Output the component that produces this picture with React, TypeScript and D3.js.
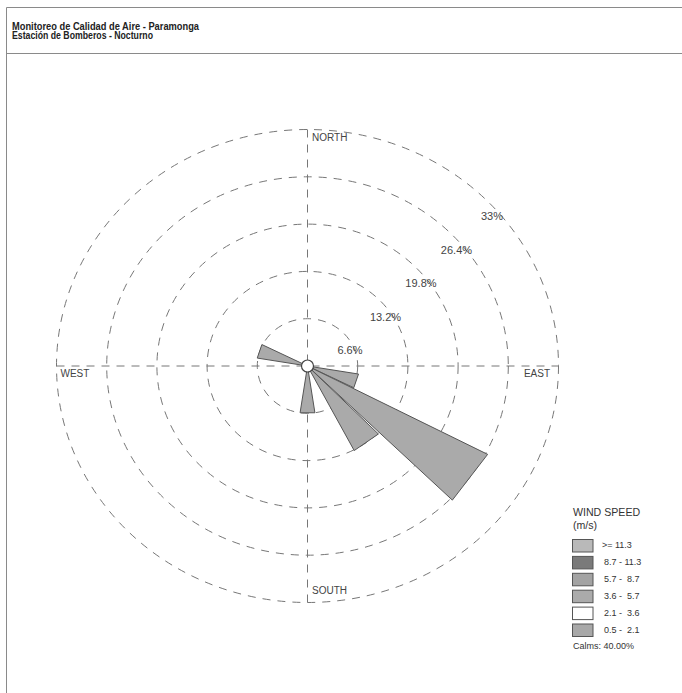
import React from "react";
import * as d3 from "d3";

const titleLines = ["Monitoreo de Calidad de Aire - Paramonga", "Estación de Bomberos - Nocturno"];
const directions = [288, 108, 126, 144, 180]; // bearing (deg) of sector centers
const frequencies = [6.7, 6.8, 26.7, 13.3, 6.6]; // percent
const ringValues = [6.6, 13.2, 19.8, 26.4, 33];
const ringLabels = ["6.6%", "13.2%", "19.8%", "26.4%", "33%"];
const compass = ["NORTH", "EAST", "SOUTH", "WEST"];
const legendLabels = [">= 11.3", "8.7 - 11.3", "5.7 -  8.7", "3.6 -  5.7", "2.1 -  3.6", "0.5 -  2.1"];
const legendColors = ["#b9b9b9", "#7a7a7a", "#a3a3a3", "#ababab", "#ffffff", "#a8a8a8"];
const calmsText = "Calms: 40.00%";

const W = 682;
const H = 693;
const cx = 307.5;
const cy = 366;
const FONT = "'Liberation Sans', Arial, Helvetica, sans-serif";

export default function App() {
  const rx = d3.scaleLinear().domain([0, 33]).range([0, 251]);
  const ry = d3.scaleLinear().domain([0, 33]).range([0, 236.5]);
  const halfWidth = 8.5;
  const pt = (bearing: number, v: number): [number, number] => {
    const a = (bearing * Math.PI) / 180;
    return [cx + rx(v) * Math.sin(a), cy - ry(v) * Math.cos(a)];
  };
  const line = d3.line();
  const maxV = 33;
  const dash = "8,7";
  const gridColor = "#777";

  return (
    <svg width={W} height={H} style={{ position: "absolute", left: 0, top: 0, background: "#fff" }} fontFamily={FONT}>
      {/* frame */}
      <line x1={6.5} y1={7.5} x2={W} y2={7.5} stroke="#8a8a8a" />
      <line x1={6.5} y1={53.5} x2={W} y2={53.5} stroke="#8a8a8a" />
      <line x1={6.5} y1={7.5} x2={6.5} y2={H} stroke="#8a8a8a" />
      {titleLines.map((t, i) => (
        <text key={t} x={12} y={29.5 + i * 9.5} fontSize={10} fontWeight="bold" fill="#222"
          textLength={i === 0 ? 187 : 141} lengthAdjust="spacingAndGlyphs">{t}</text>
      ))}

      {/* rings */}
      {ringValues.map((v) => (
        <ellipse key={v} cx={cx} cy={cy} rx={rx(v)} ry={ry(v)} fill="none" stroke={gridColor} strokeWidth={1} strokeDasharray={dash} />
      ))}
      <line x1={cx - rx(maxV)} y1={cy} x2={cx + rx(maxV)} y2={cy} stroke={gridColor} strokeDasharray={dash} />
      <line x1={cx} y1={cy - ry(maxV)} x2={cx} y2={cy + ry(maxV)} stroke={gridColor} strokeDasharray={dash} />

      {ringValues.map((v, i) => (
        <text key={"l" + v} x={cx + rx(v) * 0.707 + 7} y={cy - ry(v) * 0.707 + 18.5} fontSize={11} fill="#444"
          textAnchor="middle" dominantBaseline="middle">{ringLabels[i]}</text>
      ))}

      {/* compass */}
      <text x={cx + 4.5} y={cy - ry(maxV) + 11} fontSize={10} fill="#444">{compass[0]}</text>
      <text x={cx + rx(maxV) - 8.5} y={cy + 11} fontSize={10} fill="#444" textAnchor="end">{compass[1]}</text>
      <text x={cx + 4.5} y={cy + ry(maxV) - 8.5} fontSize={10} fill="#444">{compass[2]}</text>
      <text x={cx - rx(maxV) + 4} y={cy + 11} fontSize={10} fill="#444">{compass[3]}</text>

      {/* wedges */}
      {directions.map((b, i) => {
        const v = frequencies[i];
        const p = line([[cx, cy], pt(b - halfWidth, v), pt(b + halfWidth, v)]) + "Z";
        return <path key={b} d={p} fill="#aaaaaa" stroke="#555" strokeWidth={1} strokeLinejoin="miter" />;
      })}
      <circle cx={cx} cy={cy} r={6} fill="#fff" stroke="#444" strokeWidth={1.2} />

      {/* legend */}
      <text x={573} y={516} fontSize={10.6} fill="#333">WIND SPEED</text>
      <text x={573} y={529} fontSize={10.6} fill="#333">(m/s)</text>
      {legendLabels.map((l, i) => (
        <g key={l}>
          <rect x={572.5} y={539.5 + i * 16.9} width={20.5} height={12.5} fill={legendColors[i]} stroke="#555" />
          <text x={i === 0 ? 602 : 604} y={546 + i * 16.9} fontSize={9} fill="#333" dominantBaseline="middle"
            style={{ whiteSpace: "pre" }}>{l}</text>
        </g>
      ))}
      <text x={573} y={649} fontSize={9} fill="#333">{calmsText}</text>
    </svg>
  );
}
